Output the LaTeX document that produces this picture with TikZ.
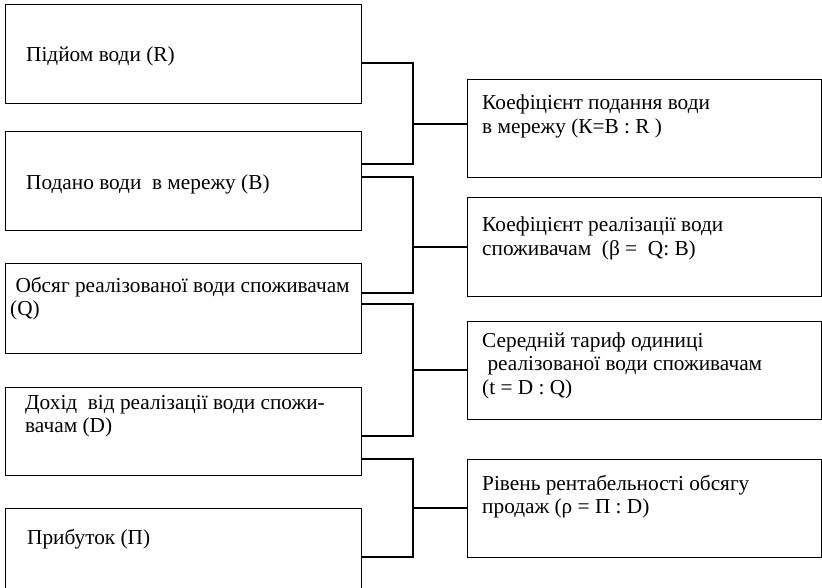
\documentclass[tikz,border=0pt]{standalone}
\usepackage{fontspec}
\setmainfont{Liberation Serif}
\begin{document}
\begin{tikzpicture}[x=1pt,y=-1pt,
  box/.style={draw, line width=1.2pt, inner sep=0pt, anchor=north west},
  txt/.style={anchor=base west, inner sep=0pt, font=\rmfamily\fontsize{21.3}{23.5}\selectfont},
  conn/.style={line width=1.2pt}]
\useasboundingbox[fill=white] (0,0) rectangle (822,588);
% left boxes
\node[box, minimum width=356pt, minimum height=99pt] (b1) at (5,4) {};
\node[box, minimum width=356pt, minimum height=99pt] (b2) at (5,131) {};
\node[box, minimum width=356pt, minimum height=90pt] (b3) at (5,263) {};
\node[box, minimum width=356pt, minimum height=88pt] (b4) at (5,387) {};
\node[box, minimum width=356pt, minimum height=86pt] (b5) at (5,508) {};
% right boxes
\node[box, minimum width=354pt, minimum height=98pt] (r1) at (467,79) {};
\node[box, minimum width=354pt, minimum height=99pt] (r2) at (467,197) {};
\node[box, minimum width=354pt, minimum height=98pt] (r3) at (467,321) {};
\node[box, minimum width=354pt, minimum height=98pt] (r4) at (467,459) {};
% texts left
\node[txt] (t1) at (26,62) {Підйом води (R)};
\node[txt] (t2) at (26,190) {Подано води\ \ в мережу (B)};
\node[txt] (t3) at (10,292) {\begin{tabular}[t]{@{}l@{}}\ Обсяг реалізованої води споживачам\\(Q)\end{tabular}};
\node[txt] (t4) at (25,409) {\begin{tabular}[t]{@{}l@{}}Дохід\ \ від реалізації води спожи-\\вачам (D)\end{tabular}};
\node[txt] (t5) at (27,544) {Прибуток (П)};
% texts right
\node[txt] (t6) at (482,110) {\begin{tabular}[t]{@{}l@{}}Коефіцієнт подання води\\в мережу (К=В : R )\end{tabular}};
\node[txt] (t7) at (482,232) {\begin{tabular}[t]{@{}l@{}}Коефіцієнт реалізації води\\споживачам\ \ (β =\ \ Q: B)\end{tabular}};
\node[txt] (t8) at (482,347) {\begin{tabular}[t]{@{}l@{}}Середній тариф одиниці\\\ реалізованої води споживачам\\(t = D : Q)\end{tabular}};
\node[txt] (t9) at (482,490) {\begin{tabular}[t]{@{}l@{}}Рівень рентабельності обсягу\\продаж (ρ = П : D)\end{tabular}};
% connectors
\coordinate (j1) at (413,124);
\coordinate (j2) at (413,247);
\coordinate (j3) at (413,370);
\coordinate (j4) at (413,508);
\draw[conn] (b1.east |- 0,63) -| (j1) |- (b2.east |- 0,164);
\draw[conn] (j1) -- (j1 -| r1.west);
\draw[conn] (b2.east |- 0,177) -| (j2) |- (b3.east |- 0,293);
\draw[conn] (j2) -- (j2 -| r2.west);
\draw[conn] (b3.east |- 0,304) -| (j3) |- (b4.east |- 0,436);
\draw[conn] (j3) -- (j3 -| r3.west);
\draw[conn] (b4.east |- 0,459) -| (j4) |- (b5.east |- 0,557);
\draw[conn] (j4) -- (j4 -| r4.west);
\end{tikzpicture}
\end{document}
